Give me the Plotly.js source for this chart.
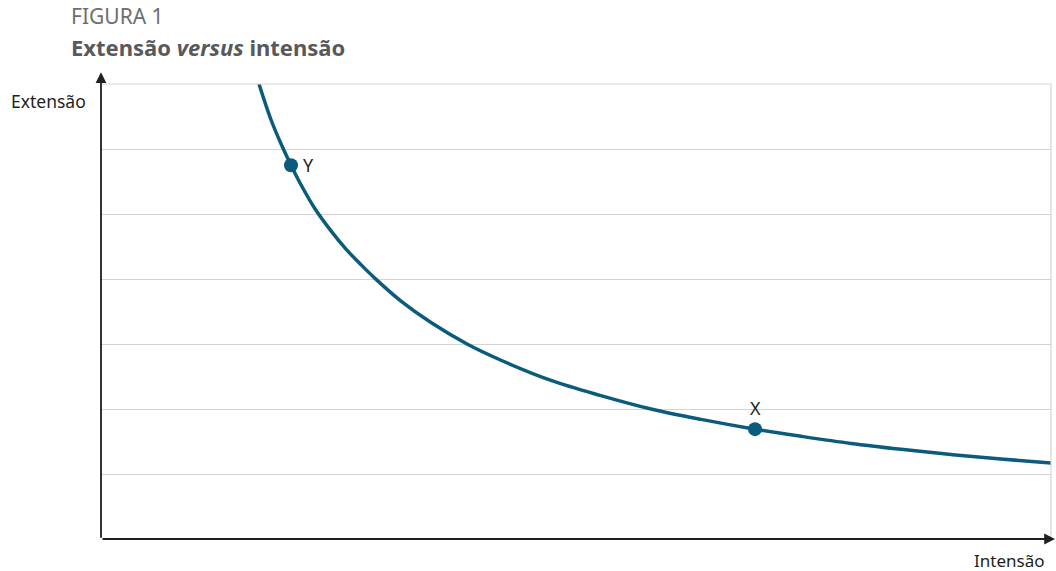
<!DOCTYPE html>
<html>
<head>
<meta charset="utf-8">
<script src="https://cdn.plot.ly/plotly-3.0.1.min.js"></script>
<style>html,body{margin:0;padding:0;background:#fff;}#chart{width:1056px;height:571px;}</style>
</head>
<body>
<div id="chart"></div>
<script>
// Curve (x: intensão, y: extensão, arbitrary units)
const curveX = [1.58, 1.70, 1.80, 1.90, 2.00, 2.14, 2.30, 2.45, 2.60, 2.74, 3.00, 3.30, 3.66, 4.00, 4.50, 4.99, 5.50, 6.00, 6.54, 7.00, 7.50, 8.00, 8.50, 9.00, 9.50];
const curveY = [7.00, 6.45, 6.08, 5.75, 5.45, 5.08, 4.74, 4.46, 4.22, 4.01, 3.66, 3.33, 3.00, 2.75, 2.44, 2.21, 2.00, 1.84, 1.69, 1.58, 1.47, 1.38, 1.30, 1.23, 1.17];
// Highlighted points
const pointLabels = ["Y", "X"];
const pointX = [1.90, 6.54];
const pointY = [5.75, 1.69];
const xTitle = "Intensão";
const yTitle = "Extensão";
const figLabel = "FIGURA 1";
const figTitle = "<b>Extensão <i>versus</i> intensão</b>";

const blue = "#0b5b7c";
const fontFam = "'Noto Sans', 'Open Sans', sans-serif";

const traces = [
  {x: curveX, y: curveY, type: "scatter", mode: "lines",
   line: {color: blue, width: 3.5, shape: "spline", smoothing: 1.0}, hoverinfo: "skip"},
  {x: pointX, y: pointY, type: "scatter", mode: "markers",
   marker: {color: blue, size: 14}, hoverinfo: "skip", cliponaxis: false}
];

const annotations = [
  {xref: "paper", yref: "paper", x: -0.0335, y: 1.1495, xanchor: "left", yanchor: "middle",
   text: figLabel, showarrow: false, font: {family: fontFam, size: 21, color: "#6d6e71"}},
  {xref: "paper", yref: "paper", x: -0.0335, y: 1.0813, xanchor: "left", yanchor: "middle",
   text: figTitle, showarrow: false, font: {family: fontFam, size: 22, color: "#58595b"}},
  {xref: "paper", yref: "paper", x: -0.0137, y: 0.9626, xanchor: "right", yanchor: "middle",
   text: yTitle, showarrow: false, font: {family: fontFam, size: 17.5, color: "#231f20"}},
  {xref: "paper", yref: "paper", x: 0.9947, y: -0.0462, xanchor: "right", yanchor: "middle",
   text: xTitle, showarrow: false, font: {family: fontFam, size: 17, color: "#231f20"}},
  {x: pointX[0], y: pointY[0], xanchor: "left", yanchor: "middle", xshift: 10,
   text: pointLabels[0], showarrow: false, font: {family: fontFam, size: 18, color: "#231f20"}},
  {x: pointX[1], y: pointY[1], xanchor: "center", yanchor: "bottom", yshift: 7,
   text: pointLabels[1], showarrow: false, font: {family: fontFam, size: 18, color: "#231f20"}},
  // axis arrows
  {xref: "paper", yref: "paper", x: 0, y: 1.026, ax: 0, ay: 467, axref: "pixel", ayref: "pixel",
   text: "", showarrow: true, arrowhead: 2, arrowsize: 1.2, arrowwidth: 1.8, arrowcolor: "#231f20", standoff: 0},
  {xref: "paper", yref: "paper", x: 1.00526, y: 0, ax: -955, ay: 0, axref: "pixel", ayref: "pixel",
   text: "", showarrow: true, arrowhead: 2, arrowsize: 1.2, arrowwidth: 1.8, arrowcolor: "#231f20", standoff: 0}
];

const layout = {
  width: 1056, height: 571,
  margin: {l: 101, r: 5, t: 84, b: 32},
  paper_bgcolor: "#ffffff", plot_bgcolor: "#ffffff",
  showlegend: false,
  font: {family: fontFam},
  xaxis: {range: [0, 9.5], showgrid: false, zeroline: false, showticklabels: false, ticks: "", showline: false, fixedrange: true},
  yaxis: {range: [0, 7], dtick: 1, tick0: 0, showgrid: true, gridcolor: "#d4d4d4", gridwidth: 1,
          zeroline: false, showticklabels: false, ticks: "", showline: false, fixedrange: true},
  shapes: [
    {type: "line", xref: "paper", yref: "paper", x0: 1, x1: 1, y0: 0, y1: 1, line: {color: "#d4d4d4", width: 1.2}},
    {type: "line", xref: "paper", yref: "paper", x0: 0, x1: 1, y0: 1, y1: 1, line: {color: "#d4d4d4", width: 1}}
  ],
  annotations: annotations
};

Plotly.newPlot("chart", traces, layout, {displayModeBar: false, staticPlot: true});
</script>
</body>
</html>
